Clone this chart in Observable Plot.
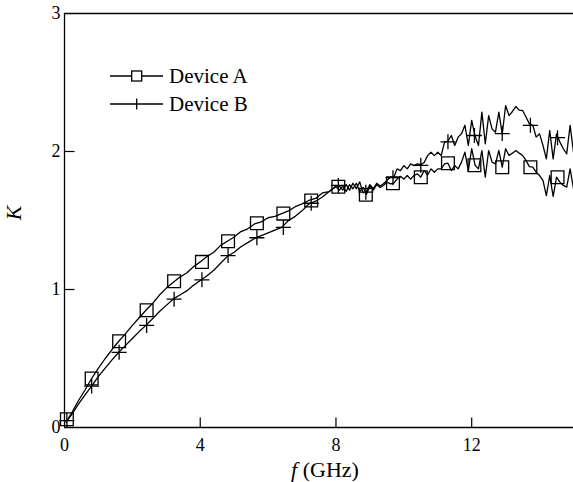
<!DOCTYPE html>
<html>
<head>
<meta charset="utf-8">
<script src="https://cdn.jsdelivr.net/npm/d3@7"></script>
<script src="https://cdn.jsdelivr.net/npm/@observablehq/plot@0.6"></script>
<style>
  html, body { margin: 0; padding: 0; background: #fff; }
  #chart svg { display: block; }
</style>
</head>
<body>
<div id="chart"></div>
<script>
// Frequency grid (GHz)
const freq = [0.05,0.2,0.4,0.6,0.8,1.0,1.2,1.4,1.6,1.8,2.0,2.2,2.4,2.6,2.8,3.0,3.2,3.4,3.6,3.8,
  4.0,4.2,4.4,4.6,4.8,5.0,5.2,5.4,5.6,5.8,6.0,6.2,6.4,6.6,6.8,7.0,7.2,7.4,7.6,7.8,
  8.0,8.1,8.2,8.3,8.4,8.5,8.6,8.7,8.8,8.9,9.0,9.1,9.2,9.3,9.4,9.5,9.6,9.7,9.8,9.9,
  10.0,10.1,10.2,10.3,10.4,10.5,10.6,10.7,10.8,10.9,11.0,11.1,11.2,11.3,11.4,11.5,11.6,11.7,11.8,11.9,
  12.0,12.1,12.2,12.3,12.4,12.5,12.6,12.7,12.8,12.9,13.0,13.1,13.2,13.3,13.4,13.5,13.6,13.7,13.8,13.9,
  14.0,14.1,14.2,14.3,14.4,14.5,14.6,14.7,14.8,14.9,15.0];

const deviceA = [0.04,0.10,0.19,0.27,0.355,0.43,0.50,0.565,0.625,0.68,0.74,0.795,0.85,0.90,0.96,1.01,1.05,1.09,1.12,1.165,
  1.20,1.24,1.27,1.32,1.35,1.38,1.42,1.44,1.475,1.49,1.52,1.53,1.55,1.57,1.60,1.62,1.645,1.66,1.70,1.71,
  1.745,1.72,1.75,1.71,1.76,1.73,1.77,1.71,1.74,1.69,1.75,1.72,1.76,1.74,1.754,1.778,1.766,1.77,1.80,1.82,
  1.80,1.826,1.80,1.826,1.838,1.814,1.862,1.83,1.874,1.85,1.874,1.874,1.91,1.915,1.862,1.898,1.874,1.923,1.995,1.862,
  2.02,1.90,1.874,2.007,1.814,2.007,1.923,1.91,2.007,1.886,2.02,1.971,1.988,2.007,1.988,1.971,1.935,1.89,1.886,1.85,
  1.826,1.79,1.681,1.826,1.674,1.814,1.778,1.754,1.742,1.874,1.73];

const deviceB = [0.04,0.09,0.165,0.235,0.30,0.37,0.43,0.49,0.545,0.595,0.645,0.695,0.74,0.79,0.84,0.885,0.93,0.96,0.99,1.03,
  1.065,1.10,1.14,1.19,1.24,1.27,1.31,1.34,1.37,1.39,1.41,1.43,1.45,1.50,1.53,1.57,1.62,1.64,1.67,1.71,
  1.75,1.75,1.72,1.76,1.72,1.77,1.73,1.78,1.70,1.71,1.76,1.73,1.77,1.75,1.766,1.79,1.814,1.81,1.874,1.862,
  1.898,1.874,1.91,1.898,1.91,1.905,1.92,1.97,1.995,1.97,1.995,1.97,2.068,2.075,2.116,2.044,2.104,2.128,2.19,2.044,
  2.225,2.11,2.044,2.285,2.056,2.26,2.164,2.14,2.285,2.125,2.333,2.26,2.29,2.326,2.30,2.297,2.25,2.20,2.19,2.104,
  2.128,2.044,1.947,2.152,1.947,2.128,2.068,2.02,1.983,2.19,1.995];

// Marker positions
const markerFreq = [0.07,0.80,1.61,2.42,3.23,4.05,4.82,5.67,6.45,7.27,8.07,8.88,9.68,10.5,11.3,12.08,12.9,13.73,14.53];
const markerA = [0.06,0.355,0.625,0.85,1.06,1.2,1.35,1.48,1.55,1.645,1.745,1.686,1.77,1.814,1.915,1.90,1.886,1.886,1.814];
const markerB = [0.05,0.30,0.545,0.74,0.93,1.07,1.246,1.375,1.45,1.625,1.754,1.705,1.81,1.90,2.07,2.116,2.13,2.19,2.10];

const xTicks = [0, 4, 8, 12];
const yTicks = [0, 1, 2, 3];
const seriesNames = ["Device A", "Device B"];

const lineA = freq.map((f, i) => ({f, k: deviceA[i]}));
const lineB = freq.map((f, i) => ({f, k: deviceB[i]}));
const mA = markerFreq.map((f, i) => ({f, k: markerA[i]}));
const mB = markerFreq.map((f, i) => ({f, k: markerB[i]}));

const font = "Liberation Serif, Times New Roman, serif";

// inward tick glyphs
const tickUp = {draw(c) { c.moveTo(0, 0); c.lineTo(0, -10); }};
const tickRight = {draw(c) { c.moveTo(0, 0); c.lineTo(10, 0); }};

const plot = Plot.plot({
  width: 573,
  height: 482,
  marginLeft: 64,
  marginRight: 0,
  marginTop: 13,
  marginBottom: 55,
  style: {fontFamily: font, fontSize: "18px", color: "#000", background: "#fff"},
  x: {domain: [0, 15]},
  y: {domain: [0, 3]},
  marks: [
    Plot.axisX({ticks: xTicks, tickSize: 0, tickPadding: 11, label: null, fontSize: 18, fontFamily: font, tickFormat: d => String(d)}),
    Plot.axisY({ticks: yTicks, tickSize: 0, tickPadding: 4, label: null, fontSize: 18, fontFamily: font, tickFormat: d => String(d)}),
    Plot.dot(xTicks.slice(1), {x: d => d, y: () => 0, symbol: tickUp, stroke: "#000", fill: "none", strokeWidth: 1.2}),
    Plot.dot(yTicks.slice(1, 3), {x: () => 0, y: d => d, symbol: tickRight, stroke: "#000", fill: "none", strokeWidth: 1.2}),
    Plot.ruleX([0], {stroke: "#000", strokeWidth: 1.3}),
    Plot.ruleY([0, 3], {stroke: "#000", strokeWidth: 1.3}),
    Plot.line(lineA, {x: "f", y: "k", stroke: "#000", strokeWidth: 1.3}),
    Plot.line(lineB, {x: "f", y: "k", stroke: "#000", strokeWidth: 1.3}),
    Plot.dot(mA, {x: "f", y: "k", symbol: "square", r: 7.2, stroke: "#000", fill: "none", strokeWidth: 1.3}),
    Plot.dot(mB, {x: "f", y: "k", symbol: "plus", r: 4.9, stroke: "#000", strokeWidth: 1.3})
  ]
});

document.getElementById("chart").appendChild(plot);

const svg = d3.select(plot);
// x-axis label
const xl = svg.append("text")
  .attr("x", 325).attr("y", 477)
  .attr("text-anchor", "middle")
  .style("font-family", font).style("font-size", "22px").attr("fill", "#000");
xl.append("tspan").style("font-style", "italic").text("f");
xl.append("tspan").text(" (GHz)");
// y-axis label
svg.append("text")
  .attr("transform", "translate(21,213) rotate(-90)")
  .attr("text-anchor", "middle")
  .style("font-family", font).style("font-size", "22px").style("font-style", "italic").attr("fill", "#000")
  .text("K");

// Legend
const leg = svg.append("g").style("font-family", font).style("font-size", "21px").attr("fill", "#000")
  .attr("text-anchor", "start");
const rows = [76, 104];
seriesNames.forEach((name, i) => {
  const y = rows[i];
  leg.append("line").attr("x1", 110).attr("x2", 163).attr("y1", y).attr("y2", y)
    .attr("stroke", "#000").attr("stroke-width", 1.3);
  if (i === 0) {
    leg.append("rect").attr("x", 131.7).attr("y", y - 5).attr("width", 10).attr("height", 10)
      .attr("fill", "#fff").attr("stroke", "#000").attr("stroke-width", 1.3);
  } else {
    leg.append("path").attr("d", `M136.7,${y - 5.5}V${y + 5.5}`)
      .attr("stroke", "#000").attr("stroke-width", 1.3);
  }
  leg.append("text").attr("x", 169).attr("y", y).attr("dy", "0.33em")
    .attr("text-anchor", "start").text(name);
});
</script>
</body>
</html>
